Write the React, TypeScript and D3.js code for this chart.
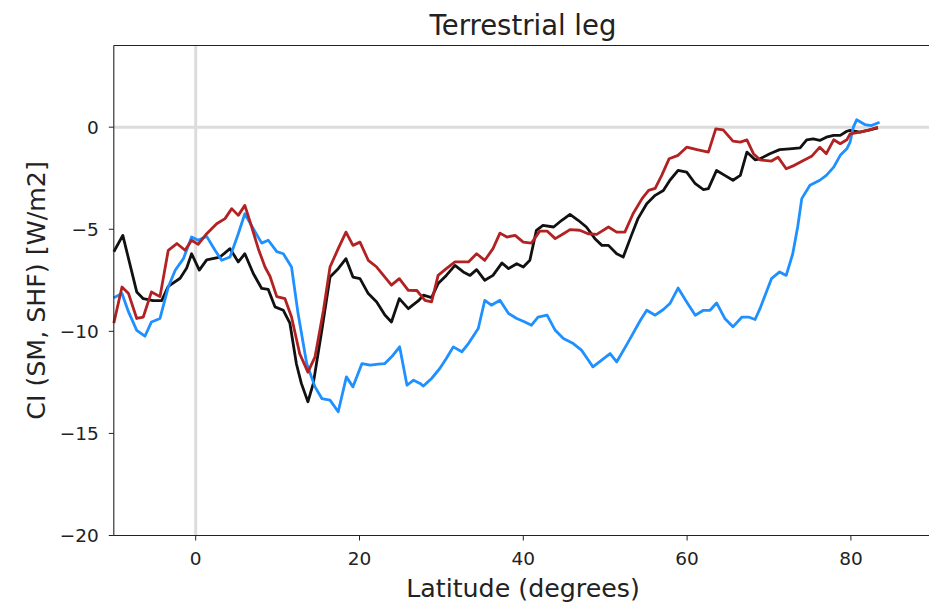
import React from "react";
import * as d3 from "d3";

const blackLat = [-10, -8.9, -7.2, -6.4, -5.2, -4.15, -3.35, -1.9, -1.1, -0.5, 0.44, 1.34, 2.97, 4.19, 5.2, 6.0, 7.03, 8.06, 8.86, 9.68, 10.7, 11.5, 12.3, 12.9, 13.7, 14.36, 15.4, 16.4, 17.4, 18.35, 19.2, 20.06, 21.07, 22.1, 23.1, 23.9, 24.86, 25.96, 27.2, 27.8, 28.8, 29.6, 30.6, 31.66, 32.67, 33.5, 34.3, 35.3, 36.3, 37.4, 38.2, 39.2, 40.0, 40.8, 41.6, 42.4, 43.7, 44.7, 45.7, 46.7, 47.7, 48.75, 49.6, 50.4, 51.4, 52.2, 53.2, 54.0, 55.07, 56.1, 57.1, 57.9, 58.9, 59.95, 61.0, 62.0, 62.6, 63.6, 64.6, 65.6, 66.5, 67.3, 68.3, 68.9, 70.1, 71.3, 72.5, 73.8, 74.6, 75.4, 76.2, 77.0, 77.9, 78.7, 79.5, 79.9, 81.1, 82.3, 83.3];
const blackVal = [-6.1, -5.3, -8.07, -8.4, -8.5, -8.5, -7.8, -7.4, -6.9, -6.2, -7.0, -6.5, -6.36, -5.95, -6.6, -6.2, -7.17, -7.9, -7.95, -8.8, -8.97, -9.6, -11.6, -12.55, -13.45, -12.55, -9.95, -7.34, -6.93, -6.44, -7.34, -7.42, -8.15, -8.56, -9.2, -9.54, -8.4, -8.89, -8.5, -8.23, -8.35, -7.66, -7.26, -6.77, -7.09, -7.26, -6.98, -7.5, -7.26, -6.65, -6.93, -6.69, -6.85, -6.52, -5.05, -4.81, -4.89, -4.56, -4.27, -4.56, -4.89, -5.46, -5.79, -5.79, -6.2, -6.36, -5.3, -4.48, -3.75, -3.34, -3.1, -2.6, -2.12, -2.2, -2.77, -3.06, -3.01, -2.12, -2.36, -2.6, -2.36, -1.22, -1.6, -1.55, -1.3, -1.1, -1.06, -1.01, -0.62, -0.57, -0.65, -0.49, -0.4, -0.4, -0.2, -0.16, -0.24, -0.13, -0.03];

const redLat = [-10, -9.0, -8.2, -7.2, -6.4, -5.4, -4.36, -3.35, -2.3, -1.3, -0.5, 0.3, 1.34, 2.56, 3.58, 4.4, 5.2, 6.0, 6.84, 7.64, 8.46, 9.07, 9.9, 10.9, 11.7, 12.7, 13.7, 14.57, 15.6, 16.4, 17.4, 18.35, 19.2, 20.06, 21.07, 22.1, 23.1, 23.9, 24.86, 25.96, 27.0, 28.0, 28.8, 29.6, 30.6, 31.66, 33.3, 34.3, 35.3, 36.3, 37.15, 38.0, 39.0, 40.0, 41.0, 42.0, 42.9, 43.9, 44.9, 45.7, 46.9, 47.9, 48.96, 50.4, 51.4, 52.4, 53.4, 54.5, 55.3, 56.1, 56.9, 57.8, 58.9, 59.95, 61.2, 62.6, 63.5, 64.4, 65.6, 66.5, 67.3, 68.1, 68.9, 70.3, 71.1, 72.1, 73.1, 74.2, 75.2, 76.2, 77.0, 77.9, 78.7, 79.5, 79.9, 81.1, 82.3, 83.3];
const redVal = [-9.6, -7.83, -8.15, -9.37, -9.3, -8.07, -8.3, -6.03, -5.7, -6.03, -5.54, -5.74, -5.22, -4.73, -4.48, -3.99, -4.32, -3.83, -4.89, -5.95, -6.85, -7.3, -8.3, -8.4, -9.3, -11.1, -12.0, -11.25, -8.97, -6.85, -5.95, -5.14, -5.79, -5.63, -6.52, -6.85, -7.34, -7.74, -7.42, -7.99, -8.0, -8.48, -8.56, -7.26, -6.93, -6.6, -6.6, -6.2, -6.52, -5.95, -5.19, -5.38, -5.3, -5.63, -5.68, -5.09, -5.09, -5.46, -5.22, -5.02, -5.05, -5.22, -5.25, -4.89, -5.14, -5.14, -4.24, -3.5, -3.1, -3.0, -2.36, -1.55, -1.38, -0.98, -1.1, -1.22, -0.08, -0.13, -0.68, -0.73, -0.62, -1.3, -1.6, -1.66, -1.47, -2.04, -1.87, -1.63, -1.43, -0.98, -1.3, -0.62, -0.81, -0.62, -0.33, -0.24, -0.13, 0];

const blueLat = [-10, -9.0, -8.2, -7.2, -6.2, -5.4, -4.36, -3.35, -2.5, -1.5, -0.5, 0.3, 1.34, 2.36, 3.17, 4.19, 5.2, 6.0, 7.03, 8.06, 8.86, 9.9, 10.7, 11.7, 12.5, 13.55, 14.57, 15.4, 16.4, 17.4, 18.4, 19.2, 20.3, 21.3, 22.3, 23.1, 24.1, 24.9, 25.8, 26.6, 27.4, 27.8, 28.8, 29.8, 30.6, 31.45, 32.5, 33.3, 34.5, 35.3, 36.1, 37.15, 38.2, 39.2, 40.2, 41.0, 41.8, 42.9, 43.9, 44.9, 46.1, 47.1, 48.1, 48.5, 50.6, 51.4, 52.7, 54.3, 55.07, 56.1, 57.1, 57.9, 58.9, 59.95, 61.0, 62.0, 62.8, 63.6, 64.6, 65.6, 66.7, 67.5, 68.3, 68.9, 70.3, 71.3, 72.1, 72.9, 73.5, 74.0, 75.0, 76.2, 77.0, 77.9, 78.7, 79.5, 79.9, 80.3, 80.7, 81.7, 82.5, 83.5];
const blueVal = [-8.35, -8.15, -9.05, -9.95, -10.24, -9.54, -9.37, -7.83, -7.01, -6.44, -5.38, -5.54, -5.35, -6.03, -6.52, -6.36, -5.22, -4.24, -4.97, -5.68, -5.54, -6.1, -6.2, -6.85, -9.13, -11.58, -12.72, -13.29, -13.37, -13.94, -12.23, -12.72, -11.58, -11.66, -11.61, -11.58, -11.17, -10.76, -12.64, -12.39, -12.55, -12.68, -12.31, -11.82, -11.33, -10.76, -11.0, -10.6, -9.86, -8.48, -8.72, -8.48, -9.13, -9.37, -9.54, -9.7, -9.3, -9.21, -9.95, -10.35, -10.6, -10.92, -11.5, -11.74, -11.09, -11.5, -10.6, -9.46, -8.97, -9.21, -8.93, -8.64, -7.88, -8.56, -9.21, -8.97, -8.97, -8.61, -9.37, -9.78, -9.3, -9.3, -9.42, -8.89, -7.42, -7.09, -7.26, -6.2, -4.89, -3.5, -2.85, -2.6, -2.36, -1.96, -1.38, -1.06, -0.73, 0, 0.36, 0.13, 0.08, 0.24];

const xTicks = [0, 20, 40, 60, 80];
const yTicks = [0, -5, -10, -15, -20];

const W = 929;
const H = 604;
const margin = { left: 113.8, top: 45.5, right: 932.8, bottom: 535.5 };

export default function App() {
  const x = d3.scaleLinear().domain([-10, 90]).range([margin.left, margin.right]);
  const y = d3.scaleLinear().domain([-20, 4]).range([margin.bottom, margin.top]);
  const line = d3
    .line<[number, number]>()
    .x((d) => x(d[0]))
    .y((d) => y(d[1]));
  const series = [
    { lat: blackLat, val: blackVal, color: "#111111" },
    { lat: blueLat, val: blueVal, color: "#1e90ff" },
    { lat: redLat, val: redVal, color: "#b22222" },
  ];
  const font = "DejaVu Sans, sans-serif";
  const fmt = (v: number) => (v < 0 ? "\u2212" + Math.abs(v) : String(v));
  return (
    <svg
      width={W}
      height={H}
      style={{ position: "fixed", left: 0, top: 0, background: "#fff" }}
      fontFamily={font}
    >
      <rect x={0} y={0} width={W} height={H} fill="#fff" />
      <line x1={x(0)} x2={x(0)} y1={margin.top} y2={margin.bottom} stroke="#dcdcdc" strokeWidth={3} />
      <line x1={margin.left} x2={margin.right} y1={y(0)} y2={y(0)} stroke="#dcdcdc" strokeWidth={3} />
      {series.map((s, i) => (
        <path
          key={i}
          d={line(s.lat.map((l, j) => [l, s.val[j]] as [number, number])) || ""}
          fill="none"
          stroke={s.color}
          strokeWidth={2.8}
          strokeLinejoin="round"
        />
      ))}
      <line x1={margin.left} x2={margin.left} y1={margin.top} y2={margin.bottom} stroke="#222" strokeWidth={1.1} />
      <line x1={margin.left} x2={margin.right} y1={margin.bottom} y2={margin.bottom} stroke="#222" strokeWidth={1.1} />
      <line x1={margin.left} x2={margin.right} y1={margin.top} y2={margin.top} stroke="#222" strokeWidth={1.1} />
      <line x1={margin.right} x2={margin.right} y1={margin.top} y2={margin.bottom} stroke="#222" strokeWidth={1.1} />
      {xTicks.map((t) => (
        <g key={"x" + t}>
          <line x1={x(t)} x2={x(t)} y1={margin.bottom} y2={margin.bottom + 5} stroke="#222" strokeWidth={1} />
          <text x={x(t)} y={565} textAnchor="middle" fontSize={18.5} fill="#222">
            {fmt(t)}
          </text>
        </g>
      ))}
      {yTicks.map((t) => (
        <g key={"y" + t}>
          <line x1={margin.left - 5} x2={margin.left} y1={y(t)} y2={y(t)} stroke="#222" strokeWidth={1} />
          <text x={margin.left - 15} y={y(t)} dy="0.36em" textAnchor="end" fontSize={18.5} fill="#222">
            {fmt(t)}
          </text>
        </g>
      ))}
      <text x={523} y={35} textAnchor="middle" fontSize={27.5} fill="#222">
        Terrestrial leg
      </text>
      <text x={523} y={597} textAnchor="middle" fontSize={25.3} fill="#222">
        Latitude (degrees)
      </text>
      <text
        transform={`translate(45, ${(margin.top + margin.bottom) / 2}) rotate(-90)`}
        textAnchor="middle"
        fontSize={25.3}
        fill="#222"
      >
        CI (SM, SHF) [W/m2]
      </text>
    </svg>
  );
}
